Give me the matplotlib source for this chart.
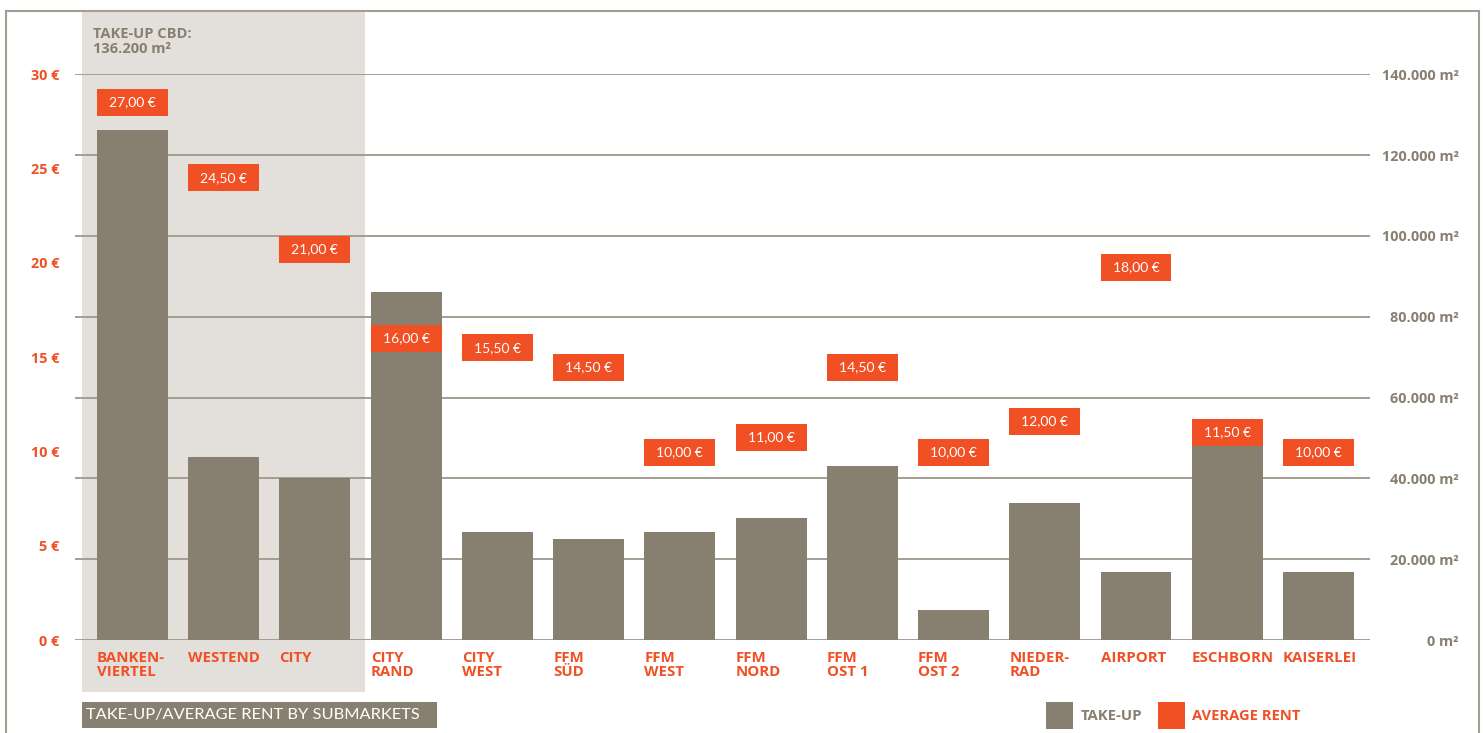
import matplotlib
matplotlib.use("Agg")
import matplotlib.pyplot as plt
from matplotlib.patches import Rectangle
from matplotlib.lines import Line2D
from matplotlib import transforms

plt.rcParams['font.family'] = ['Lato', 'DejaVu Sans']
BOLD = ['Open Sans', 'DejaVu Sans']

# ---------------- data ----------------
categories = ["BANKEN-\nVIERTEL", "WESTEND", "CITY", "CITY\nRAND", "CITY\nWEST",
              "FFM\nSÜD", "FFM\nWEST", "FFM\nNORD", "FFM\nOST 1", "FFM\nOST 2",
              "NIEDER-\nRAD", "AIRPORT", "ESCHBORN", "KAISERLEI"]
take_up = [126200, 45300, 40100, 86100, 26700, 25000, 26700, 30200,
           43000, 7400, 33900, 16800, 48000, 16800]
rent = [27.0, 24.5, 21.0, 16.0, 15.5, 14.5, 10.0, 11.0, 14.5, 10.0,
        12.0, 18.0, 11.5, 10.0]
# vertical placement of the rent label boxes (in € units)
rent_label_pos = [28.5, 24.5, 20.7, 16.0, 15.5, 14.45, 9.95, 10.75,
                  14.45, 9.95, 11.6, 19.75, 11.0, 9.95]
rent_ticks = [0, 5, 10, 15, 20, 25, 30]
takeup_ticks = [0, 20000, 40000, 60000, 80000, 100000, 120000, 140000]
cbd_text = "TAKE-UP CBD:\n136.200 m²"
title_text = "TAKE-UP/AVERAGE RENT BY SUBMARKETS"
legend_labels = ["TAKE-UP", "AVERAGE RENT"]

# ---------------- styles ----------------
GREY = "#877f6f"
RED = "#f15025"
BG = "#e3e0dc"
GRID = "#a59d91"
W, H = 1483, 733

fig = plt.figure(figsize=(W / 100, H / 100), dpi=100)
fig.patch.set_facecolor("white")
ax = fig.add_axes([75 / W, 93 / H, (1370 - 75) / W, 565.8 / H])
ax.set_facecolor("none")
ax2 = ax.twinx()
ax2.set_facecolor("none")

x = list(range(len(categories)))
bw = 0.778

# CBD background
blend = transforms.blended_transform_factory(ax.transData, fig.transFigure)
ax.add_patch(Rectangle((-0.5535, 1 - 692 / H), 2.5485 + 0.5535, (692 - 11) / H,
                       transform=blend, facecolor=BG, edgecolor="none",
                       clip_on=False, zorder=0.1))

# bars (take-up) on ax (right axis)
ax.bar(x, take_up, width=bw, color=GREY, linewidth=0, zorder=2)
ax.set_ylim(0, 140000)
ax.set_xlim(-0.630, 13.565)
ax.set_yticks(takeup_ticks)
ax.set_yticklabels([(f"{v:,}".replace(",", ".") + " m²") for v in takeup_ticks])
ax.yaxis.tick_right()
ax.tick_params(axis="y", length=0, pad=64, labelsize=10.4, labelcolor=GREY)
for lab in ax.get_yticklabels():
    lab.set_ha("right")
    lab.set_fontweight("bold")
    lab.set_family(BOLD)
ax.yaxis.grid(True, color=GRID, linewidth=1.4, zorder=0.5)
ax.set_axisbelow(True)
ax.set_xticks([])
for s in ax.spines.values():
    s.set_visible(False)

# rent boxes on ax2 (left axis)
box_h = 1.43
ax2.set_ylim(0, 30)
ax2.bar(x, [box_h] * len(x), bottom=[p - box_h / 2 for p in rent_label_pos],
        width=bw, color=RED, linewidth=0, zorder=3)
for xi, r, p in zip(x, rent, rent_label_pos):
    ax2.text(xi, p, f"{r:.2f}".replace(".", ",") + " €", ha="center",
             va="center", color="white", fontsize=10, zorder=4)
ax2.yaxis.tick_left()
ax2.set_yticks(rent_ticks)
ax2.set_yticklabels([f"{v} €" for v in rent_ticks])
ax2.tick_params(axis="y", length=0, pad=11, labelsize=10.4, labelcolor=RED)
for lab in ax2.get_yticklabels():
    lab.set_fontweight("bold")
    lab.set_family(BOLD)
for s in ax2.spines.values():
    s.set_visible(False)

# category labels
xtr = ax.get_xaxis_transform()
for xi, c in zip(x, categories):
    ax.text(xi - bw / 2, -10.5 / 565.8, c, transform=xtr, ha="left", va="top",
            color=RED, fontsize=10.8, fontweight="bold", family=BOLD,
            linespacing=1.08, clip_on=False)

# CBD text
fig.text(93 / W, 1 - 26.5 / H, cbd_text, ha="left", va="top", color=GREY,
         fontsize=10.5, fontweight="bold", family=BOLD, linespacing=1.12)

# title box
fig.patches.append(Rectangle((82 / W, 1 - 728 / H), (437 - 82) / W, 26 / H,
                             transform=fig.transFigure, facecolor=GREY,
                             edgecolor="none"))
fig.text(86 / W, 1 - 715.5 / H, title_text, ha="left", va="center",
         color="white", fontsize=11.8)

# legend
fig.patches.append(Rectangle((1046 / W, 1 - 728.5 / H), 27 / W, 26.5 / H,
                             transform=fig.transFigure, facecolor=GREY))
fig.text(1081 / W, 1 - 716 / H, legend_labels[0], ha="left", va="center",
         color=GREY, fontsize=10.7, fontweight="bold", family=BOLD)
fig.patches.append(Rectangle((1158 / W, 1 - 728.5 / H), 27 / W, 26.5 / H,
                             transform=fig.transFigure, facecolor=RED))
fig.text(1192 / W, 1 - 716 / H, legend_labels[1], ha="left", va="center",
         color=RED, fontsize=10.6, fontweight="bold", family=BOLD)

# frame
for xs, ys in [([6 / W, 6 / W], [0, 1 - 11 / H]),
               ([6 / W, 1479 / W], [1 - 11 / H, 1 - 11 / H]),
               ([1479 / W, 1479 / W], [0, 1 - 11 / H])]:
    fig.lines.append(Line2D(xs, ys, transform=fig.transFigure, color=GRID,
                            linewidth=1.5))

fig.savefig("out.png", dpi=100)
